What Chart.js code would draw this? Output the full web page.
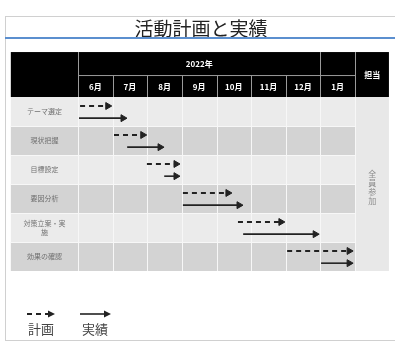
<!DOCTYPE html>
<html>
<head>
<meta charset="utf-8">
<script src="https://cdn.jsdelivr.net/npm/chart.js@4/dist/chart.umd.min.js"></script>
<style>
  html, body { margin: 0; padding: 0; background: #fff; }
  #wrap { position: relative; width: 395px; height: 343px; }
</style>
</head>
<body>
<div id="wrap"><canvas id="gantt"></canvas></div>
<script>
    "use strict";

    // data (x in months from the start of June)
    var title = '活動計画と実績';
    var yearLabel = '2022年';
    var ownerHead = '担当';
    var ownerText = '全員参加';
    var months = ['6月', '7月', '8月', '9月', '10月', '11月', '12月', '1月'];
    var tasks = ['テーマ選定', '現状把握', '目標設定', '要因分析', '対策立案・実施', '効果の確認'];
    var planStart = [0.06, 1.04, 1.99, 3.03, 4.62, 6.04];
    var planEnd = [0.86, 1.87, 2.83, 4.33, 5.86, 7.83];
    var actualStart = [0.03, 1.42, 2.49, 3.03, 4.77, 7.02];
    var actualEnd = [1.30, 2.37, 2.83, 4.65, 6.85, 7.83];
    var legendLabels = ['計画', '実績'];

    var FONT = '"Noto Sans CJK JP", "Noto Sans", sans-serif';
    var INK = '#222';

    function arrow(label, x0, x1, y, dashed) {
        return {
            label: label,
            data: [{ x: x0, y: y }, { x: x1, y: y }],
            showLine: true,
            borderColor: INK,
            borderWidth: dashed ? 2 : 1.6,
            borderDash: dashed ? [5, 4] : [],
            pointStyle: 'triangle',
            rotation: 90,
            pointRadius: [0, 4],
            pointHoverRadius: [0, 4],
            pointBackgroundColor: INK,
            pointBorderColor: INK,
            pointBorderWidth: 1,
            clip: false
        };
    }

    var datasets = [];
    for (var i = 0; i < tasks.length; i++) {
        datasets.push(arrow(legendLabels[0], planStart[i], planEnd[i], i - 0.19, true));
        datasets.push(arrow(legendLabels[1], actualStart[i], actualEnd[i], i + 0.23, false));
    }

    function line(ctx, x0, y0, x1, y1) {
        ctx.beginPath();
        ctx.moveTo(x0, y0);
        ctx.lineTo(x1, y1);
        ctx.stroke();
    }

    function legendArrow(ctx, x0, x1, y, dashed) {
        ctx.save();
        ctx.strokeStyle = INK;
        ctx.fillStyle = INK;
        ctx.lineWidth = dashed ? 2 : 1.6;
        ctx.setLineDash(dashed ? [5, 4] : []);
        line(ctx, x0, y, x1 - 4, y);
        ctx.setLineDash([]);
        ctx.beginPath();
        ctx.moveTo(x1, y);
        ctx.lineTo(x1 - 7, y - 3.5);
        ctx.lineTo(x1 - 7, y + 3.5);
        ctx.closePath();
        ctx.fill();
        ctx.restore();
    }

    var tablePlugin = {
        id: 'tablePlugin',
        beforeDatasetsDraw: function (chart) {
            var ctx = chart.ctx, xs = chart.scales.x, ys = chart.scales.y;
            var X = function (v) { return xs.getPixelForValue(v); };
            var Y = function (v) { return ys.getPixelForValue(v); };
            var left = X(-1.94), right = X(8.98);
            var headTop = Y(-2.05), headMid = Y(-1.24);
            var top = Y(-0.5), bottom = Y(tasks.length - 0.5);

            ctx.save();
            // frame
            ctx.strokeStyle = '#d0d0d0';
            ctx.lineWidth = 1;
            ctx.strokeRect(5.5, 16.5, 400, 324);
            // title and rule
            ctx.fillStyle = '#222';
            ctx.font = '19px ' + FONT;
            ctx.textAlign = 'center';
            ctx.textBaseline = 'middle';
            ctx.fillText(title, 201, 29);
            ctx.strokeStyle = '#5b8fcf';
            ctx.lineWidth = 2;
            line(ctx, 5, 38, 395, 38);

            // header block
            ctx.fillStyle = '#000';
            ctx.fillRect(left, headTop, right - left, top - headTop);
            ctx.strokeStyle = '#9a9a9a';
            ctx.lineWidth = 1;
            line(ctx, X(0), headMid, X(months.length), headMid);
            [0, months.length - 1, months.length].forEach(function (k) {
                line(ctx, Math.round(X(k)) + 0.5, headTop, Math.round(X(k)) + 0.5, top);
            });
            for (var k = 1; k < months.length - 1; k++) {
                line(ctx, Math.round(X(k)) + 0.5, headMid, Math.round(X(k)) + 0.5, top);
            }
            ctx.fillStyle = '#fff';
            ctx.font = 'bold 8px ' + FONT;
            ctx.fillText(yearLabel, X((months.length - 1) / 2), (headTop + headMid) / 2);
            months.forEach(function (m, j) {
                ctx.fillText(m, X(j + 0.5), (headMid + top) / 2 + 1);
            });
            ctx.fillText(ownerHead, X(months.length + 0.5), (headTop + top) / 2);

            // body cells
            tasks.forEach(function (t, r) {
                var y0 = Y(r - 0.5), y1 = Y(r + 0.5);
                ctx.fillStyle = r % 2 ? '#d3d3d3' : '#ebebeb';
                ctx.fillRect(left, y0, X(months.length) - left, y1 - y0);
                ctx.fillStyle = '#707070';
                ctx.font = '7px ' + FONT;
                if (t.length > 6) {
                    ctx.fillText(t.slice(0, 6), (left + X(0)) / 2, (y0 + y1) / 2 - 4.5);
                    ctx.fillText(t.slice(6), (left + X(0)) / 2, (y0 + y1) / 2 + 4.5);
                } else {
                    ctx.fillText(t, (left + X(0)) / 2, (y0 + y1) / 2);
                }
            });
            ctx.fillStyle = '#e8e8e8';
            ctx.fillRect(X(months.length), top, right - X(months.length), bottom - top);
            ctx.strokeStyle = '#f7f7f7';
            for (var c = 0; c <= months.length; c++) {
                line(ctx, Math.round(X(c)) + 0.5, top, Math.round(X(c)) + 0.5, bottom);
            }
            for (var r = 1; r < tasks.length; r++) {
                line(ctx, left, Math.round(Y(r - 0.5)) + 0.5, X(months.length), Math.round(Y(r - 0.5)) + 0.5);
            }
            // owner column, vertical text
            ctx.fillStyle = '#8a8a8a';
            ctx.font = '8px ' + FONT;
            var ox = X(months.length + 0.5), oy = Y(2.15);
            ownerText.split('').forEach(function (ch, n) {
                ctx.fillText(ch, ox, oy + n * 9);
            });

            // legend
            legendArrow(ctx, 27, 55, 314, true);
            legendArrow(ctx, 80, 111, 314, false);
            ctx.fillStyle = '#444';
            ctx.font = '13px ' + FONT;
            ctx.fillText(legendLabels[0], 41, 329);
            ctx.fillText(legendLabels[1], 95, 329);
            ctx.restore();
        }
    };

    new Chart(document.getElementById('gantt').getContext('2d'), {
        type: 'scatter',
        data: { datasets: datasets },
        plugins: [tablePlugin],
        options: {
            responsive: true,
            maintainAspectRatio: false,
            animation: false,
            layout: { padding: { left: 78, right: 40, top: 97, bottom: 72 } },
            plugins: {
                legend: { display: false },
                tooltip: { enabled: false }
            },
            scales: {
                x: { type: 'linear', min: 0, max: 8, display: false },
                y: { type: 'linear', min: -0.5, max: 5.5, reverse: true, display: false }
            }
        }
    });
</script>
</body>
</html>
